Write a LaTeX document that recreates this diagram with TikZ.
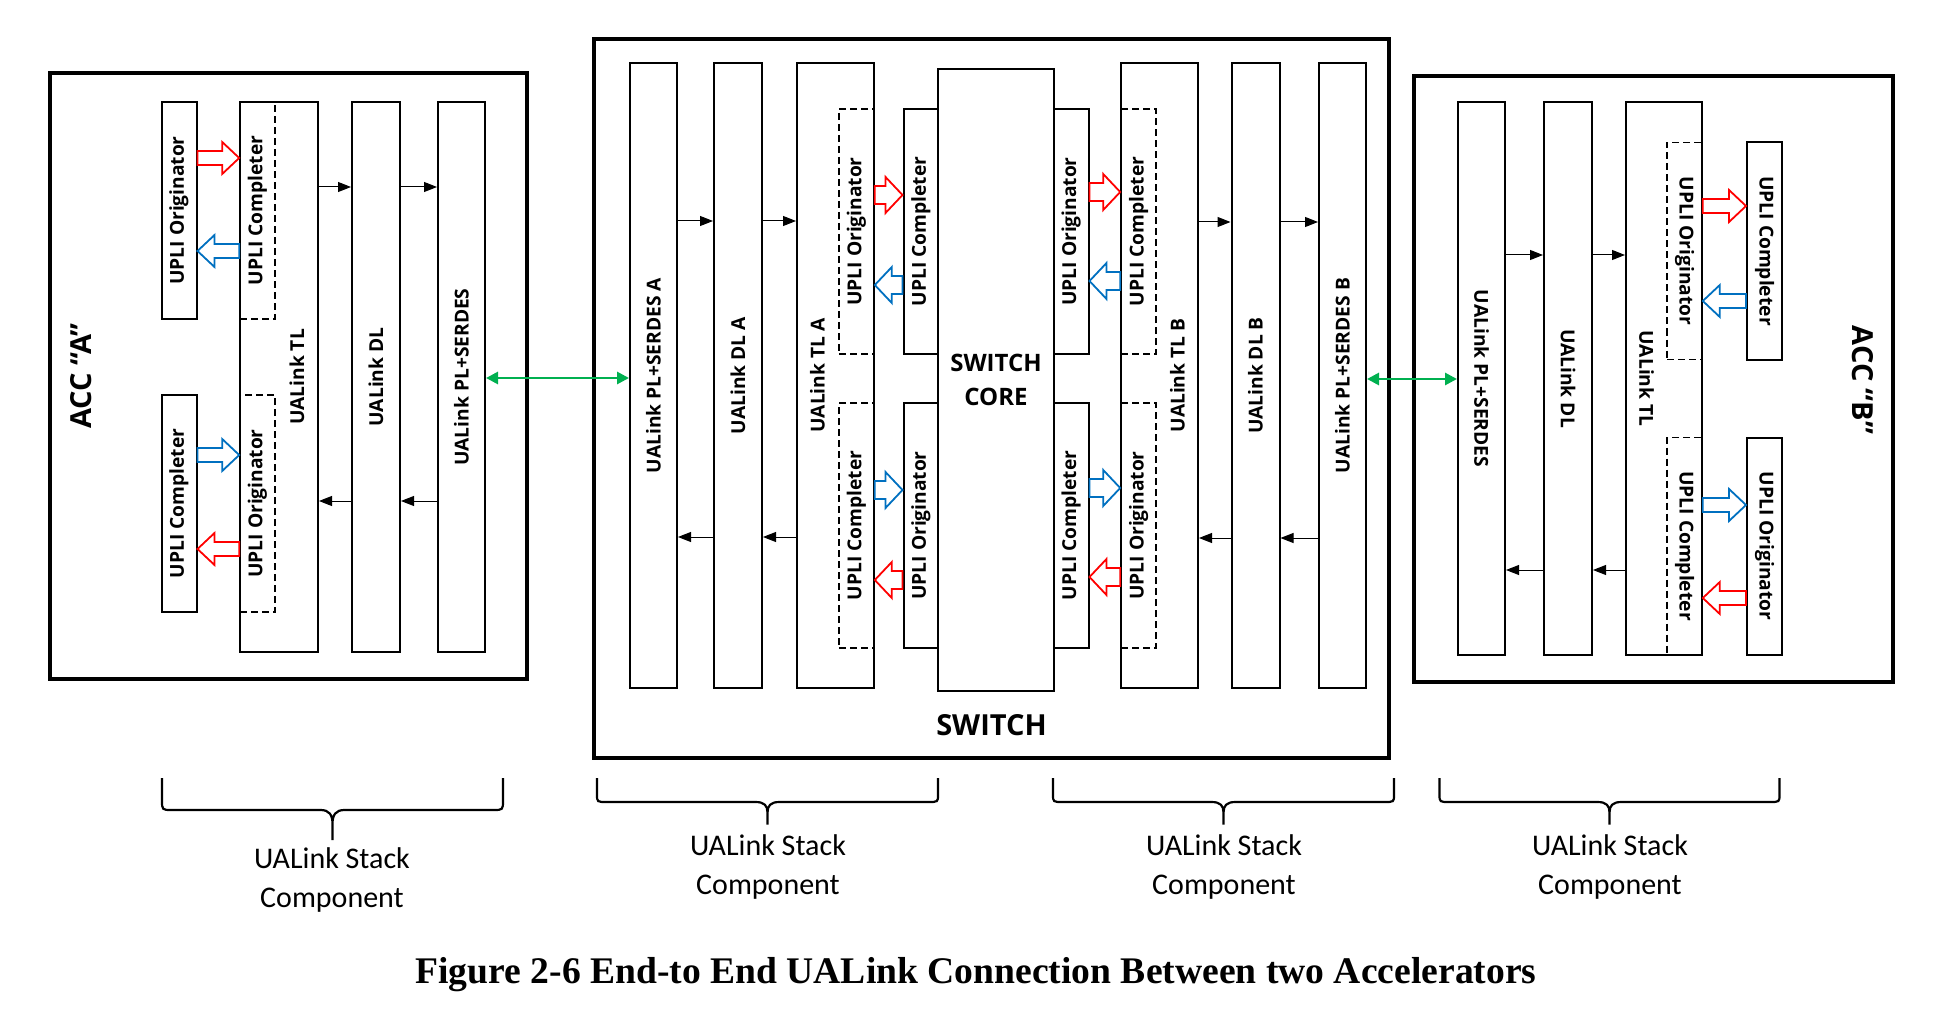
\documentclass[tikz,border=0pt]{standalone}
\usepackage{fontspec}
\usepackage{graphicx}
\usepackage{xcolor}
\usetikzlibrary{calc, arrows.meta}
\newfontfamily\osans{Open Sans}
\newfontfamily\carl{Carlito}
\newfontfamily\cambr{Liberation Serif}
\definecolor{req}{HTML}{FF0000}
\definecolor{rsp}{HTML}{0070C0}
\definecolor{lnkgreen}{HTML}{00B050}

\begin{document}
\begin{tikzpicture}[
    x=0.5pt, y=-0.5pt,
    box/.style={draw, line width=1pt, fill=white, inner sep=0pt,
        font=\osans\bfseries\fontsize{9.6}{11}\selectfont},
    dbox/.style={box, fill=none, dashed, dash pattern=on 3.5pt off 2pt,
        line width=0.8pt},
    upli/.style={box, minimum width=17.5pt, minimum height=#1},
    dupli/.style={dbox, minimum width=17.5pt, minimum height=#1},
    encl/.style={draw, line width=2pt, inner sep=0pt},
    core/.style={draw, line width=1pt, fill=white, inner sep=0pt, align=center,
        font=\osans\bfseries\fontsize{12}{17}\selectfont},
    ttl/.style={inner sep=0pt, font=\osans\bfseries\fontsize{14.5}{17}\selectfont},
    lbl/.style={inner sep=0pt, font=\osans\bfseries\fontsize{9.6}{11}\selectfont},
    arr/.style={-{Triangle[length=6.5pt,width=5pt]}, line width=0.5pt},
    link/.style={{Triangle[length=6pt,width=6pt]}-{Triangle[length=6pt,width=6pt]},
        draw=lnkgreen, line width=1.4pt},
    hol/.style 2 args={draw=#1, fill=white, line width=0.9pt, line join=miter,
        to path={let \p1=(\tikztostart), \p2=(\tikztotarget),
          \p3=($(\tikztotarget)!8.5pt!(\tikztostart)$) in
          (\x1,\y1+#2) -- (\x3,\y1+#2) -- (\x3,\y1+#2+4.5pt) -- (\x2,\y1)
          -- (\x3,\y1-#2-4.5pt) -- (\x3,\y1-#2) -- (\x1,\y1-#2) -- cycle}},
    stk/.style={align=center, inner sep=0pt, anchor=north,
        font=\carl\fontsize{15}{19.5}\selectfont},
    figcap/.style={inner sep=0pt, anchor=base,
        font=\cambr\bfseries\fontsize{18.8}{22}\selectfont},
    brc/.pic={\draw[line width=1.1pt]
        (-#1,0) -- (-#1,22) .. controls (-#1,32) .. (-#1+10,32) -- (-12,32)
        .. controls (-3,32) and (0,37) .. (0,46) -- (0,62)
        (0,46) .. controls (0,37) and (3,32) .. (12,32) -- (#1-10,32)
        .. controls (#1,32) .. (#1,22) -- (#1,0);},
  ]
  \useasboundingbox (0,0) rectangle (1954,1016);

  % accelerator A
  \node[encl, minimum width=238.5pt, minimum height=303pt] (acca) at (288.5,376) {};
  \node[ttl] (accat) at (81,376) {\rotatebox{90}{ACC “A”}};
  \node[box, minimum width=39pt, minimum height=275pt] (atl) at (279,377) {};
  \node[lbl] (atlt) at (297,377) {\rotatebox{90}{UALink TL}};
  \node[box, minimum width=24pt, minimum height=275pt] (adl) at (376,377) {\rotatebox{90}{UALink DL}};
  \node[box, minimum width=23.5pt, minimum height=275pt] (apl) at (461.5,377) {\rotatebox{90}{UALink PL+SERDES}};
  \node[upli=108.5pt] (ao) at (179,210.5) {\rotatebox{90}{UPLI Originator}};
  \node[upli=108.5pt] (ac) at (179,503.5) {\rotatebox{90}{UPLI Completer}};
  \node[dupli=108.5pt] (adc) at (257.5,210.5) {\rotatebox{90}{UPLI Completer}};
  \node[dupli=108.5pt] (ado) at (257.5,503.5) {\rotatebox{90}{UPLI Originator}};
  \draw[arr] (atl.east |- 0,187) -- (adl.west |- 0,187);
  \draw[arr] (adl.east |- 0,187) -- (apl.west |- 0,187);
  \draw[arr] (adl.west |- 0,501) -- (atl.east |- 0,501);
  \draw[arr] (apl.west |- 0,501) -- (adl.east |- 0,501);
  \path[hol={req}{3.5pt}] (ao.east |- 0,158) to (adc.west |- 0,158);
  \path[hol={rsp}{3.5pt}] (adc.west |- 0,251) to (ao.east |- 0,251);
  \path[hol={rsp}{3.5pt}] (ac.east |- 0,455) to (ado.west |- 0,455);
  \path[hol={req}{3.5pt}] (ado.west |- 0,549) to (ac.east |- 0,549);

  % switch
  \node[encl, minimum width=397.5pt, minimum height=359.5pt] (sw) at (991.5,398.5) {};
  \node[ttl, anchor=base] (swt) at (991.5,735) {SWITCH};
  \node[box, minimum width=23.5pt, minimum height=312.5pt] (spla) at (653.5,375.5) {\rotatebox{90}{UALink PL+SERDES A}};
  \node[box, minimum width=24pt, minimum height=312.5pt] (sdla) at (738,375.5) {\rotatebox{90}{UALink DL A}};
  \node[box, minimum width=38.5pt, minimum height=312.5pt] (stla) at (835.5,375.5) {};
  \node[lbl] (stlat) at (817.5,375.5) {\rotatebox{90}{UALink TL A}};
  \node[dupli=122.5pt] (sdoa) at (856.5,231.5) {\rotatebox{90}{UPLI Originator}};
  \node[dupli=122.5pt] (sdca) at (856.5,525.5) {\rotatebox{90}{UPLI Completer}};
  \node[upli=122.5pt] (sca) at (921,231.5) {\rotatebox{90}{UPLI Completer}};
  \node[upli=122.5pt] (soa) at (921,525.5) {\rotatebox{90}{UPLI Originator}};
  \node[core, minimum width=58pt, minimum height=311pt] (core) at (996,380) {SWITCH\\CORE};
  \node[upli=122.5pt] (sob) at (1071,231.5) {\rotatebox{90}{UPLI Originator}};
  \node[upli=122.5pt] (scb) at (1071,525.5) {\rotatebox{90}{UPLI Completer}};
  \node[box, minimum width=38.5pt, minimum height=312.5pt] (stlb) at (1159.5,375.5) {};
  \node[lbl] (stlbt) at (1177.5,375.5) {\rotatebox{90}{UALink TL B}};
  \node[dupli=122.5pt] (sdcb) at (1138.5,231.5) {\rotatebox{90}{UPLI Completer}};
  \node[dupli=122.5pt] (sdob) at (1138.5,525.5) {\rotatebox{90}{UPLI Originator}};
  \node[box, minimum width=24pt, minimum height=312.5pt] (sdlb) at (1255.5,375.5) {\rotatebox{90}{UALink DL B}};
  \node[box, minimum width=23.5pt, minimum height=312.5pt] (splb) at (1342.5,375.5) {\rotatebox{90}{UALink PL+SERDES B}};
  \draw[arr] (spla.east |- 0,221) -- (sdla.west |- 0,221);
  \draw[arr] (sdla.east |- 0,221) -- (stla.west |- 0,221);
  \draw[arr] (sdla.west |- 0,537) -- (spla.east |- 0,537);
  \draw[arr] (stla.west |- 0,537) -- (sdla.east |- 0,537);
  \draw[arr] (stlb.east |- 0,222) -- (sdlb.west |- 0,222);
  \draw[arr] (sdlb.east |- 0,222) -- (splb.west |- 0,222);
  \draw[arr] (sdlb.west |- 0,538) -- (stlb.east |- 0,538);
  \draw[arr] (splb.west |- 0,538) -- (sdlb.east |- 0,538);
  \path[hol={req}{4.5pt}] (sdoa.east |- 0,195) to (sca.west |- 0,195);
  \path[hol={rsp}{4.5pt}] (sca.west |- 0,285) to (sdoa.east |- 0,285);
  \path[hol={rsp}{4.5pt}] (sdca.east |- 0,490) to (soa.west |- 0,490);
  \path[hol={req}{4.5pt}] (soa.west |- 0,580) to (sdca.east |- 0,580);
  \path[hol={req}{4.5pt}] (sob.east |- 0,192) to (sdcb.west |- 0,192);
  \path[hol={rsp}{4.5pt}] (sdcb.west |- 0,281) to (sob.east |- 0,281);
  \path[hol={rsp}{4.5pt}] (scb.east |- 0,488) to (sdob.west |- 0,488);
  \path[hol={req}{4.5pt}] (sdob.west |- 0,577) to (scb.east |- 0,577);

  % accelerator B
  \node[encl, minimum width=239.5pt, minimum height=303pt] (accb) at (1653.5,379) {};
  \node[ttl] (accbt) at (1863,380) {\rotatebox{-90}{ACC “B”}};
  \node[box, minimum width=23.5pt, minimum height=276.5pt] (bpl) at (1481.5,378.5) {\rotatebox{-90}{UALink PL+SERDES}};
  \node[box, minimum width=24pt, minimum height=276.5pt] (bdl) at (1568,378.5) {\rotatebox{-90}{UALink DL}};
  \node[box, minimum width=38pt, minimum height=276.5pt] (btl) at (1664,378.5) {};
  \node[lbl] (btlt) at (1646.5,378.5) {\rotatebox{-90}{UALink TL}};
  \node[dupli=108.5pt] (bdo) at (1684.5,251) {\rotatebox{-90}{UPLI Originator}};
  \node[dupli=108.5pt] (bdc) at (1684.5,546) {\rotatebox{-90}{UPLI Completer}};
  \node[upli=108.5pt] (bc) at (1764.5,251) {\rotatebox{-90}{UPLI Completer}};
  \node[upli=108.5pt] (bo) at (1764.5,546) {\rotatebox{-90}{UPLI Originator}};
  \draw[arr] (bpl.east |- 0,255) -- (bdl.west |- 0,255);
  \draw[arr] (bdl.east |- 0,255) -- (btl.west |- 0,255);
  \draw[arr] (btl.west |- 0,570) -- (bdl.east |- 0,570);
  \draw[arr] (bdl.west |- 0,570) -- (bpl.east |- 0,570);
  \path[hol={req}{3.5pt}] (bdo.east |- 0,206) to (bc.west |- 0,206);
  \path[hol={rsp}{3.5pt}] (bc.west |- 0,301) to (bdo.east |- 0,301);
  \path[hol={rsp}{3.5pt}] (bdc.east |- 0,505) to (bo.west |- 0,505);
  \path[hol={req}{3.5pt}] (bo.west |- 0,598) to (bdc.east |- 0,598);

  % links
  \draw[link] (apl.east |- 0,378) -- (spla.west |- 0,378);
  \draw[link] (splb.east |- 0,379) -- (bpl.west |- 0,379);

  % stack braces
  \pic (bra) at (332.5,778) {brc=170.5};
  \node[stk] (stka) at (332,847) {UALink Stack\\Component};
  \pic[yscale=0.75] (brs1) at (767.5,778) {brc=170.5};
  \node[stk] (stks1) at (768,834) {UALink Stack\\Component};
  \pic[yscale=0.75] (brs2) at (1223.5,778) {brc=170.5};
  \node[stk] (stks2) at (1224,834) {UALink Stack\\Component};
  \pic[yscale=0.75] (brb) at (1609.5,778) {brc=170};
  \node[stk] (stkb) at (1610,834) {UALink Stack\\Component};

  \node[figcap] (fig) at (976,983) {Figure 2-6 End-to End UALink Connection Between two Accelerators};
\end{tikzpicture}
\end{document}
